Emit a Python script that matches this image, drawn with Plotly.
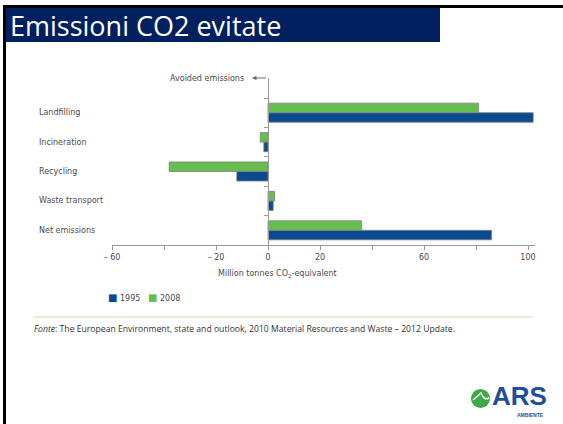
import plotly.graph_objects as go

# Categories, top to bottom as listed in the chart
categories = ["Landfilling", "Incineration", "Recycling", "Waste transport", "Net emissions"]
values_1995 = [102, -1.6, -12, 2, 86]
values_2008 = [81, -3, -38, 2.5, 36]
series_names = ["1995", "2008"]

tick_values = [-60, -40, -20, 0, 20, 40, 60, 80, 100]
tick_labels = ["\u2013 60", "", "\u2013 20", "0", "20", "", "60", "", "100"]

W, H = 563, 424
BLUE = "#0B4A8F"
GREEN = "#68BD50"
TEXT = "#4a4a4a"
AXIS = "#9a9a9a"
FONT = "DejaVu Sans"

# plot area in pixels
x_range = [-60, 102.5]
px_zero, px_per_unit = 268, 2.6
px_left = px_zero + x_range[0] * px_per_unit
px_right = px_zero + x_range[1] * px_per_unit
px_top, px_bottom = 78, 245
n_cat = len(categories)
band = (px_bottom - 98) / n_cat
y_range = [-0.5, n_cat - 0.5 + (98 - px_top) / band]

x_dom = [px_left / W, px_right / W]
y_dom = [(H - px_bottom) / H, (H - px_top) / H]
# paper position of x = 0, where the category axis sits
zero_pos = x_dom[0] + (0 - x_range[0]) / (x_range[1] - x_range[0]) * (x_dom[1] - x_dom[0])

order_bottom_up = categories[::-1]

fig = go.Figure()
for name, vals, col in [(series_names[0], values_1995, BLUE), (series_names[1], values_2008, GREEN)]:
    fig.add_trace(go.Bar(
        name=name, y=categories, x=vals, orientation="h", showlegend=False,
        marker=dict(color=col, line=dict(color="#808080", width=0.8)),
    ))

annotations = []
# category labels, left aligned
for c in categories:
    annotations.append(dict(
        x=37 / W, xref="paper", y=c, yref="y", text=c, showarrow=False,
        xanchor="left", yanchor="middle", font=dict(family=FONT, size=8, color=TEXT),
    ))
# "Avoided emissions" pointer at the top of the axis
annotations.append(dict(
    x=0, xref="x", y=y_range[1], yref="y", text=" ", showarrow=True,
    ax=16, ay=0, xshift=-16, arrowhead=2, arrowsize=0.9, arrowwidth=1,
    arrowcolor="#6a6a6a", font=dict(size=2),
))
annotations.append(dict(
    x=0, xref="x", y=y_range[1], yref="y", text="Avoided emissions", showarrow=False,
    xanchor="right", yanchor="middle", xshift=-22,
    font=dict(family=FONT, size=8, color=TEXT),
))
# axis title
annotations.append(dict(
    x=277 / W, xref="paper", y=(H - 274) / H, yref="paper",
    text="Million tonnes CO<sub>2</sub>-equivalent", showarrow=False,
    xanchor="center", yanchor="middle", font=dict(family=FONT, size=8, color=TEXT),
))
# series key
key = "   ".join(
    f"<span style='color:{c};font-size:10px'>\u25A0</span> {n}"
    for n, c in zip(series_names, [BLUE, GREEN])
)
annotations.append(dict(
    x=106 / W, xref="paper", y=(H - 297) / H, yref="paper", text=key, showarrow=False,
    xanchor="left", yanchor="middle", font=dict(family=FONT, size=8, color=TEXT),
))
# slide title
annotations.append(dict(
    x=8 / W, xref="paper", y=(H - 25) / H, yref="paper",
    text="Emissioni CO2 evitate", showarrow=False, xanchor="left", yanchor="middle",
    font=dict(family="Open Sans", size=27, color="white"),
))
# source note
annotations.append(dict(
    x=32 / W, xref="paper", y=(H - 329) / H, yref="paper",
    text="<i>Fonte</i>: The European Environment, state and outlook, 2010 Material Resources and Waste \u2013 2012 Update.",
    showarrow=False, xanchor="left", yanchor="middle",
    font=dict(family="Open Sans", size=8.65, color="#333333"),
))
# logo lettering
annotations.append(dict(
    x=490 / W, xref="paper", y=(H - 396) / H, yref="paper", text="<b>ARS</b>",
    showarrow=False, xanchor="left", yanchor="middle",
    font=dict(family="Liberation Sans", size=26, color="#1F4E9C"),
))
annotations.append(dict(
    x=546 / W, xref="paper", y=(H - 415) / H, yref="paper", text="<b>AMBIENTE</b>",
    showarrow=False, xanchor="right", yanchor="middle",
    font=dict(family="Liberation Sans", size=5, color="#1F4E9C"),
))

def px_box(x0, y0, x1, y1):
    return dict(x0=x0 / W, x1=x1 / W, y0=(H - y1) / H, y1=(H - y0) / H)

shapes = [
    # slide frame
    dict(type="rect", xref="paper", yref="paper", fillcolor="black", line_width=0, **px_box(3, 5, W, 8)),
    dict(type="rect", xref="paper", yref="paper", fillcolor="black", line_width=0, **px_box(3, 5, 6, H)),
    # title band
    dict(type="rect", xref="paper", yref="paper", fillcolor="#002060", line_width=0, **px_box(6, 8, 440, 42)),
    # separator above the source
    dict(type="line", xref="paper", yref="paper", line=dict(color="#bfe0b6", width=1),
         x0=33 / W, x1=533 / W, y0=(H - 317) / H, y1=(H - 317) / H),
    # logo disc
    dict(type="circle", xref="paper", yref="paper", fillcolor="#3DAA47", line_width=0, **px_box(471, 389, 490, 408)),
    dict(type="path", xref="paper", yref="paper", line=dict(color="white", width=1.5),
         path=f"M {473/W},{(H-400)/H} Q {478/W},{(H-396)/H} {481/W},{(H-393)/H} Q {484/W},{(H-401)/H} {489/W},{(H-398)/H}"),
]

fig.update_layout(
    width=W, height=H,
    margin=dict(l=0, r=0, t=0, b=0, autoexpand=False),
    paper_bgcolor="white", plot_bgcolor="white",
    barmode="group", bargap=0.35, bargroupgap=0,
    font=dict(family=FONT, size=8, color=TEXT),
    showlegend=False,
    xaxis=dict(
        domain=x_dom, range=x_range, tickmode="array", tickvals=tick_values, ticktext=tick_labels,
        ticks="outside", ticklen=4, tickcolor=AXIS, tickwidth=1,
        showline=True, linecolor=AXIS, linewidth=1, showgrid=False,
        zeroline=True, zerolinecolor=AXIS, zerolinewidth=1,
        tickfont=dict(family=FONT, size=8, color=TEXT), anchor="y",
    ),
    yaxis=dict(
        domain=y_dom, range=y_range, type="category",
        categoryorder="array", categoryarray=order_bottom_up,
        anchor="free", position=zero_pos, side="left",
        showline=True, linecolor=AXIS, linewidth=1,
        ticks="outside", ticklen=4, tickcolor=AXIS, tickson="boundaries",
        showticklabels=False, showgrid=False, zeroline=False,
    ),
    annotations=annotations,
    shapes=shapes,
)

fig.write_html("out.html")
